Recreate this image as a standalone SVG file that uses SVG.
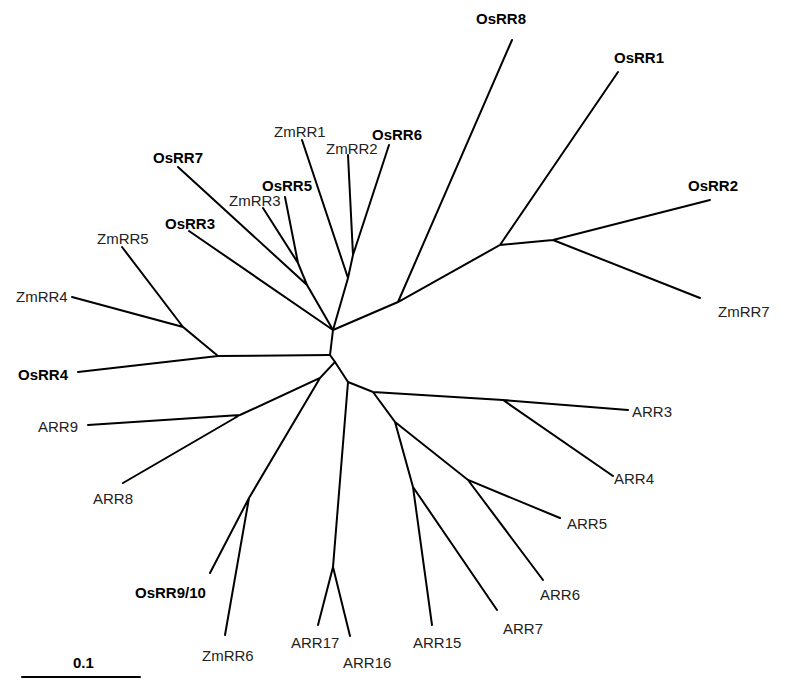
<svg xmlns="http://www.w3.org/2000/svg" width="785" height="683" viewBox="0 0 785 683">
<style>
.e{stroke:#000;stroke-width:2;fill:none;stroke-linecap:round}
text{font-family:"Liberation Sans",Arial,sans-serif;font-size:15px;fill:#222}
.b{font-weight:bold;fill:#000}
</style>
<rect width="785" height="683" fill="#fff"/>
<g id="edges" class="e">
<path d="M330,355 L333,330 L398,302 L500,245 L553,240 L710,200 M553,240 L700,298 M500,245 L618,72 M398,302 L512,40"/>
<path d="M333,330 L348,278 L302,140 M348,278 L353,255 L348,155 M353,255 L389,145"/>
<path d="M333,330 L189,231 M333,330 L307,285 L178,167 M307,285 L298,263 L263,208 M298,263 L285,197"/>
<path d="M330,355 L218,356 L78,372 M218,356 L183,327 L72,297 M183,327 L122,247"/>
<path d="M330,355 L335,362 L320,378 L240,415 L88,425 M240,415 L123,483 M320,378 L249,498 L210,573 M249,498 L225,635"/>
<path d="M335,362 L348,382 L333,567 L318,625 M333,567 L350,636"/>
<path d="M348,382 L373,392 L503,400 L628,410 M503,400 L613,476 M373,392 L395,422 L413,487 L432,625 M413,487 L497,610 M395,422 L468,480 L560,518 M468,480 L543,580"/>
<path d="M22,677 L140,677"/>
</g>
<g id="labels">
<text class="b" x="476" y="24">OsRR8</text>
<text class="b" x="614" y="63">OsRR1</text>
<text class="b" x="688" y="191">OsRR2</text>
<text x="718" y="317">ZmRR7</text>
<text x="274" y="137">ZmRR1</text>
<text x="326" y="154">ZmRR2</text>
<text class="b" x="372" y="140">OsRR6</text>
<text class="b" x="153" y="163">OsRR7</text>
<text class="b" x="262" y="191">OsRR5</text>
<text x="229" y="206">ZmRR3</text>
<text class="b" x="165" y="229">OsRR3</text>
<text x="97" y="244">ZmRR5</text>
<text x="16" y="302">ZmRR4</text>
<text class="b" x="18" y="380">OsRR4</text>
<text x="38" y="432">ARR9</text>
<text x="93" y="504">ARR8</text>
<text class="b" x="135" y="598">OsRR9/10</text>
<text x="202" y="661">ZmRR6</text>
<text x="291" y="648">ARR17</text>
<text x="343" y="668">ARR16</text>
<text x="413" y="648">ARR15</text>
<text x="503" y="634">ARR7</text>
<text x="540" y="600">ARR6</text>
<text x="567" y="529">ARR5</text>
<text x="614" y="484">ARR4</text>
<text x="632" y="417">ARR3</text>
<text class="b" x="73" y="668">0.1</text>
</g>
</svg>
